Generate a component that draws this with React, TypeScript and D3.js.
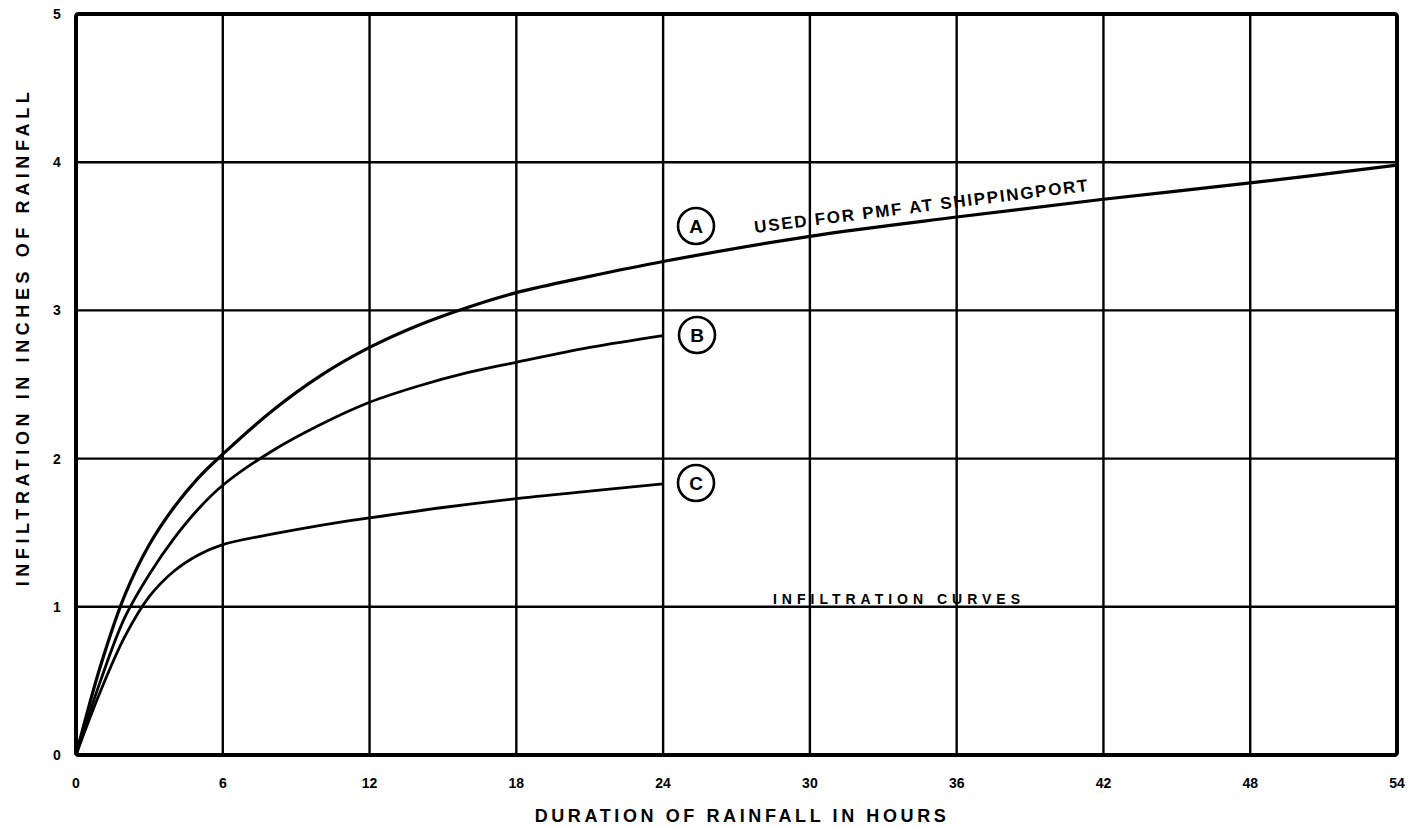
import React from "react";
import * as d3 from "d3";

const hours = [0, 6, 12, 18, 24, 30, 36, 42, 48, 54];
const inches = [0, 1, 2, 3, 4, 5];

const curveAHours = [0, 1, 2, 3, 4, 5, 6, 8, 10, 12, 14, 16, 18, 21, 24, 30, 36, 42, 48, 54];
const curveAValues = [0, 0.6, 1.08, 1.42, 1.67, 1.87, 2.03, 2.32, 2.56, 2.75, 2.9, 3.02, 3.12, 3.23, 3.33, 3.5, 3.63, 3.75, 3.86, 3.98];

const curveBHours = [0, 1, 2, 3, 4, 5, 6, 8, 10, 12, 14, 16, 18, 21, 24];
const curveBValues = [0, 0.5, 0.93, 1.22, 1.46, 1.66, 1.82, 2.05, 2.23, 2.38, 2.49, 2.58, 2.65, 2.75, 2.83];

const curveCHours = [0, 1, 2, 3, 4, 5, 6, 8, 10, 12, 15, 18, 21, 24];
const curveCValues = [0, 0.43, 0.8, 1.07, 1.24, 1.35, 1.42, 1.49, 1.55, 1.6, 1.67, 1.73, 1.78, 1.83];

const W = 1412;
const H = 828;
const margin = { left: 76, right: 15, top: 14, bottom: 73 };

export default function App() {
  const x = d3.scaleLinear().domain([0, 54]).range([margin.left, W - margin.right]);
  const y = d3.scaleLinear().domain([0, 5]).range([H - margin.bottom, margin.top]);
  const line = d3
    .line<[number, number]>()
    .x((d) => x(d[0]))
    .y((d) => y(d[1]))
    .curve(d3.curveCatmullRom.alpha(0.5));

  const mk = (hs: number[], vs: number[]) => line(hs.map((h, i) => [h, vs[i]] as [number, number])) || "";

  const font = "'Liberation Sans', Arial, sans-serif";
  const x0 = x(0), x1 = x(54), y0 = y(0), y1 = y(5);

  return (
    <svg width={W} height={H} style={{ position: "absolute", left: 0, top: 0, background: "#fff" }}>
      <rect x={0} y={0} width={W} height={H} fill="#fff" />
      {hours.slice(1, -1).map((h) => (
        <line key={"gx" + h} x1={x(h)} x2={x(h)} y1={y0} y2={y1} stroke="#000" strokeWidth={2.4} />
      ))}
      {inches.slice(1, -1).map((v) => (
        <line key={"gy" + v} x1={x0} x2={x1} y1={y(v)} y2={y(v)} stroke="#000" strokeWidth={2.4} />
      ))}
      <rect x={x0} y={y1} width={x1 - x0} height={y0 - y1} fill="none" stroke="#000" strokeWidth={4} rx={2.5} />

      <path d={mk(curveAHours, curveAValues)} fill="none" stroke="#000" strokeWidth={3.2} />
      <path d={mk(curveBHours, curveBValues)} fill="none" stroke="#000" strokeWidth={2.8} />
      <path d={mk(curveCHours, curveCValues)} fill="none" stroke="#000" strokeWidth={2.8} />

      {hours.map((h) => (
        <text key={"tx" + h} x={x(h)} y={y0 + 33} textAnchor="middle" fontFamily={font} fontWeight="bold" fontSize={14}>
          {h}
        </text>
      ))}
      {inches.map((v) => (
        <text key={"ty" + v} x={x0 - 19} y={y(v) + 5} textAnchor="middle" fontFamily={font} fontWeight="bold" fontSize={14}>
          {v}
        </text>
      ))}

      <text x={742} y={822} textAnchor="middle" fontFamily={font} fontWeight="bold" fontSize={18} letterSpacing={3.6}>
        DURATION OF RAINFALL IN HOURS
      </text>
      <text
        transform={`translate(29,337) rotate(-90)`}
        textAnchor="middle"
        fontFamily={font}
        fontWeight="bold"
        fontSize={18}
        letterSpacing={4.6}
      >
        INFILTRATION IN INCHES OF RAINFALL
      </text>

      {[
        { l: "A", cx: 696, cy: 226 },
        { l: "B", cx: 697, cy: 335 },
        { l: "C", cx: 696, cy: 483 },
      ].map((c) => (
        <g key={c.l}>
          <circle cx={c.cx} cy={c.cy} r={18} fill="#fff" stroke="#000" strokeWidth={2.6} />
          <text x={c.cx} y={c.cy + 7} textAnchor="middle" fontFamily={font} fontWeight="bold" fontSize={19}>
            {c.l}
          </text>
        </g>
      ))}

      <text
        transform={`translate(755,233) rotate(-7.2)`}
        fontFamily={font}
        fontWeight="bold"
        fontSize={17}
        letterSpacing={1.8}
      >
        USED FOR PMF AT SHIPPINGPORT
      </text>
      <text x={899} y={604} textAnchor="middle" fontFamily={font} fontWeight="bold" fontSize={14} letterSpacing={5}>
        INFILTRATION CURVES
      </text>
    </svg>
  );
}
